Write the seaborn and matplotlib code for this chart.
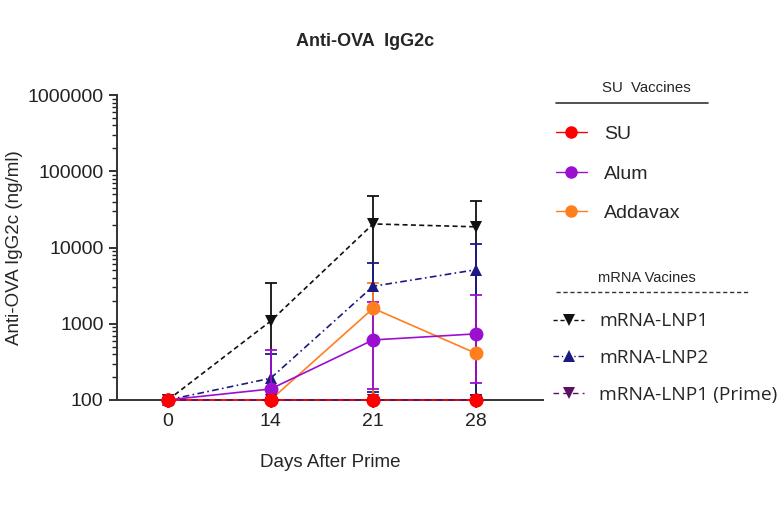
import numpy as np
import matplotlib
matplotlib.use("Agg")
import matplotlib.pyplot as plt
from matplotlib.lines import Line2D
from matplotlib.ticker import LogLocator, FixedLocator, FuncFormatter, NullFormatter
import seaborn as sns

days = ["0", "14", "21", "28"]

su = [100, 100, 100, 100]
alum = [100, 139, 612, 735]
alum_hi = [np.nan, 450, 1950, 2400]
alum_lo = [np.nan, 10, 139, 165]
addavax = [100, 100, 1590, 410]
addavax_hi = [np.nan, np.nan, 3400, np.nan]
addavax_lo = [np.nan, np.nan, 10, np.nan]
lnp1 = [100, 1080, 20400, 18700]
lnp1_hi = [np.nan, 3460, 47500, 41000]
lnp1_lo = [np.nan, 10, 10, 10]
lnp2 = [100, 192, 3100, 5100]
lnp2_hi = [np.nan, 400, 6300, 11000]
lnp2_lo = [np.nan, 10, 128, 116]
prime = [100, 100, 100, 100]

sns.set_style("ticks")
plt.rcParams["font.family"] = ["Liberation Sans", "DejaVu Sans"]

fig = plt.figure(figsize=(7.84, 5.2), dpi=100)
ax = fig.add_axes([0.149, 0.231, 0.544, 0.586])
x = np.arange(len(days))

series = [
    ("SU", su, None, None, "#ff0000", "o", "-", 7),
    ("Alum", alum, alum_hi, alum_lo, "#9b0fd0", "o", "-", 6),
    ("Addavax", addavax, addavax_hi, addavax_lo, "#ff7f1e", "o", "-", 5),
    ("mRNA-LNP1", lnp1, lnp1_hi, lnp1_lo, "#111111", "v", (0, (3, 2)), 4),
    ("mRNA-LNP2", lnp2, lnp2_hi, lnp2_lo, "#1c1a80", "^", (0, (4, 2, 1, 2)), 4),
    ("mRNA-LNP1 (Prime)", prime, None, None, "#5c1060", "v", (0, (4, 3)), 8),
]

handles = []
for name, vals, hi, lo, col, mk, ls, z in series:
    if hi is not None:
        v = np.array(vals, float)
        h = np.array(hi, float)
        l = np.array(lo, float)
        ok = np.isfinite(h)
        ax.errorbar(x[ok], v[ok], yerr=[v[ok] - l[ok], h[ok] - v[ok]], fmt="none",
                    ecolor=col, elinewidth=1.3, capsize=4, capthick=1.3, zorder=z - 1)
    sns.lineplot(x=x, y=vals, ax=ax, color=col, marker=mk, markersize=10 if mk == "o" else 9,
                 markeredgewidth=0, linestyle=ls, linewidth=1.2, clip_on=False, zorder=z)
    handles.append(Line2D([], [], color=col, marker=mk, markersize=9 if mk == "o" else 8,
                          markeredgewidth=0, linestyle=ls, linewidth=1.0))

# SU markers sit on top of the Prime dashes, as in the original
sns.lineplot(x=x, y=su, ax=ax, color="#ff0000", marker="o", markersize=10,
             markeredgewidth=0, linestyle="none", clip_on=False, zorder=10)

ax.set_yscale("log")
ax.set_ylim(100, 1000000)
ax.set_xlim(-0.5, 3.66)
ax.set_xticks(x)
ax.set_xticklabels(days)
ax.yaxis.set_major_locator(FixedLocator([100, 1000, 10000, 100000, 1000000]))
ax.yaxis.set_major_formatter(FuncFormatter(lambda v, p: f"{int(round(v))}"))
ax.yaxis.set_minor_locator(LogLocator(base=10, subs=np.arange(2, 10)))
ax.yaxis.set_minor_formatter(NullFormatter())
ax.tick_params(axis="both", labelsize=14, colors="#222222", width=1.3, length=6)
ax.tick_params(axis="y", which="minor", width=1.0, length=3.5, color="#222222")
for s in ["left", "bottom"]:
    ax.spines[s].set_linewidth(1.4)
    ax.spines[s].set_color("#333333")
sns.despine(ax=ax)
ax.set_xlabel("Days After Prime", fontsize=13.5, labelpad=17)
ax.set_ylabel("Anti-OVA IgG2c (ng/ml)", fontsize=13.5, labelpad=3)

fig.text(365 / 784, 1 - 42 / 520, "Anti-OVA  IgG2c", ha="center", va="center",
         fontsize=13, fontweight="bold")

# legend group 1
fig.text(646 / 784, 1 - 88 / 520, "SU  Vaccines", ha="center", va="center", fontsize=10.8)
fig.add_artist(Line2D([556 / 784, 708 / 784], [1 - 103 / 520] * 2, color="#333333", lw=1.2))
fig.legend(handles[:3], [s[0] for s in series[:3]], loc="upper left",
           bbox_to_anchor=(538 / 784, 1 - 108 / 520), frameon=False, fontsize=14,
           handlelength=1.6, handletextpad=0.9, labelspacing=1.13)

# legend group 2
fig.text(647 / 784, 1 - 278 / 520, "mRNA Vacines", ha="center", va="center", fontsize=10.5)
fig.add_artist(Line2D([556 / 784, 748 / 784], [1 - 292 / 520] * 2, color="#333333",
                      lw=1.0, linestyle=(0, (3, 2))))
fig.legend(handles[3:], [s[0] for s in series[3:]], loc="upper left",
           bbox_to_anchor=(536 / 784, 1 - 295 / 520), frameon=False,
           prop={"family": "Open Sans", "size": 13.8},
           handlelength=1.6, handletextpad=0.8, labelspacing=0.98)

fig.savefig("out.png", dpi=100)
